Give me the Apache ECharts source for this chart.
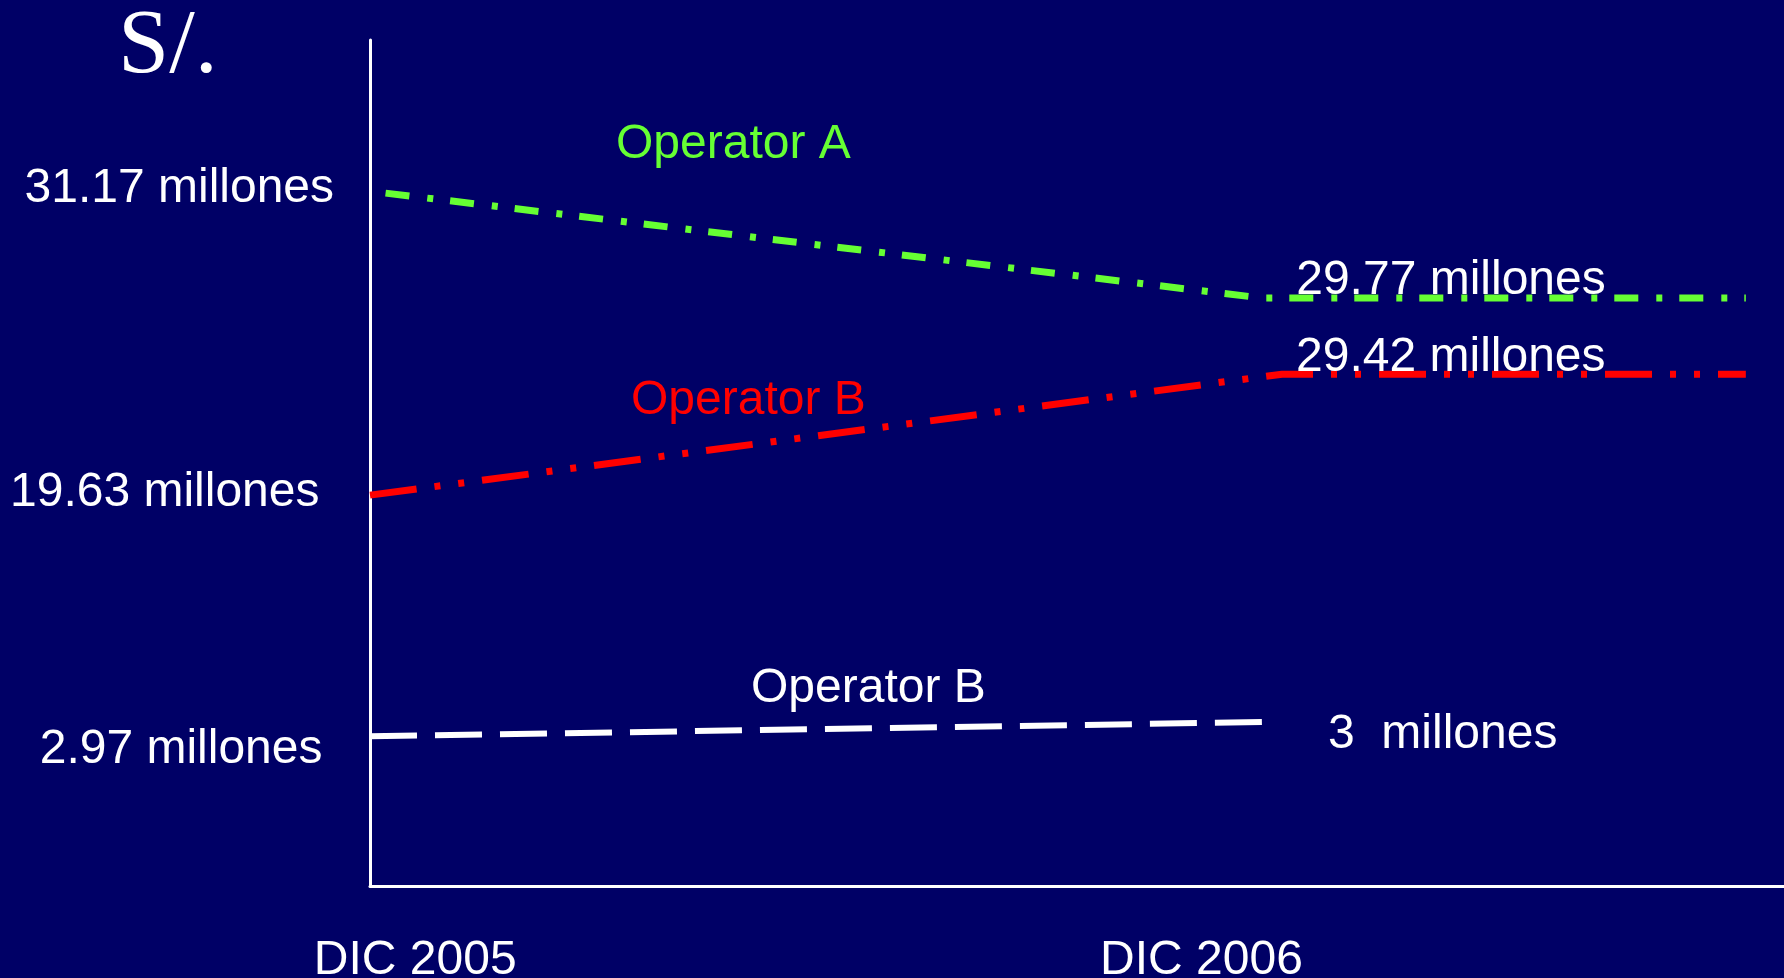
<!DOCTYPE html>
<html>
<head>
<meta charset="utf-8">
<script src="https://cdn.jsdelivr.net/npm/echarts@6/dist/echarts.min.js"></script>
<style>
  html, body { margin: 0; padding: 0; background: #000066; }
  #chart { width: 1784px; height: 978px; }
</style>
</head>
<body>
<div id="chart"></div>
<script>
// periodos del eje X y su ubicación en la escala horizontal (0-100)
const periodos = ['DIC 2005', 'DIC 2006'];
const posPeriodos = [3.2, 58.8];

// Operator A (verde)
const xOperadorA = [1.1, 63.1, 97.3];
const nivelOperadorA = [81.9, 69.5, 69.5];
const textosOperadorA = ['31.17 millones', '29.77 millones', ''];

// Operator B (rojo)
const xOperadorB = [0, 64.5, 97.3];
const nivelOperadorB = [46.2, 60.5, 60.5];
const textosOperadorB = ['19.63 millones', '29.42 millones', ''];

// Operator B (blanco)
const xOperadorB2 = [0, 64.0];
const nivelOperadorB2 = [17.7, 19.4];
const textosOperadorB2 = ['2.97 millones', '3  millones'];

const FONT = "'Liberation Sans', Arial, sans-serif";

const chart = echarts.init(document.getElementById('chart'));

function puntos(xs, ys, textos, estilos) {
  return xs.map((x, i) => ({
    value: [x, ys[i]],
    label: textos[i]
      ? Object.assign({ show: true, formatter: textos[i] }, estilos[i])
      : { show: false }
  }));
}

function serie(nombre, color, width, dash, data) {
  return {
    name: nombre,
    type: 'line',
    data: data,
    symbol: 'circle',
    symbolSize: 1,
    itemStyle: { color: 'rgba(0,0,0,0)' },
    lineStyle: { color: color, width: width, type: dash, cap: 'butt' },
    label: { color: '#ffffff', fontSize: 48, fontFamily: FONT },
    clip: false,
    silent: true,
    emphasis: { disabled: true }
  };
}

function texto(t, x, y, color) {
  return {
    type: 'text', x: x, y: y, silent: true,
    style: { text: t, fill: color, font: '48px ' + FONT, align: 'left', verticalAlign: 'middle' }
  };
}

const option = {
  backgroundColor: '#000066',
  animation: false,
  grid: { left: 370, right: 0, top: 40, bottom: 92, containLabel: false, outerBoundsMode: 'none' },
  xAxis: {
    type: 'value', min: 0, max: 100,
    axisLine: { show: true, lineStyle: { color: '#ffffff', width: 3 } },
    axisTick: { show: false },
    splitLine: { show: false },
    axisLabel: {
      customValues: posPeriodos,
      formatter: v => periodos[posPeriodos.indexOf(v)] || '',
      color: '#ffffff', fontSize: 48, fontFamily: FONT,
      margin: 51, verticalAlign: 'top'
    }
  },
  yAxis: {
    type: 'value', min: 0, max: 100,
    axisLine: { show: true, lineStyle: { color: '#ffffff', width: 3 } },
    axisTick: { show: false },
    splitLine: { show: false },
    axisLabel: { show: false }
  },
  series: [
    serie('Operator A', '#66FF33', 7, [24, 18, 6, 17],
      puntos(xOperadorA, nivelOperadorA, textosOperadorA, [
        { position: 'left', distance: 51, offset: [0, -4] },
        { position: 'right', distance: 33.5, offset: [0, -17] },
        {}
      ])),
    serie('Operator B', '#FF0000', 7, [47, 18, 6, 18, 6, 18],
      puntos(xOperadorB, nivelOperadorB, textosOperadorB, [
        { position: 'left', distance: 50, offset: [0, -2] },
        { position: 'right', distance: 13.5, offset: [0, -16.5] },
        {}
      ])),
    serie('Operator B ', '#FFFFFF', 6, [47, 18],
      puntos(xOperadorB2, nivelOperadorB2, textosOperadorB2, [
        { position: 'left', distance: 47, offset: [0, 14] },
        { position: 'right', distance: 52.5, offset: [0, 13] }
      ]))
  ],
  graphic: [
    {
      type: 'text', x: 118, y: 48, silent: true,
      style: { text: 'S/.', fill: '#ffffff', font: "92px 'Liberation Serif', 'Times New Roman', serif", align: 'left', verticalAlign: 'middle' }
    },
    texto('Operator A', 616, 145, '#66FF33'),
    texto('Operator B', 631, 401, '#FF0000'),
    texto('Operator B', 751, 689, '#FFFFFF')
  ]
};

chart.setOption(option);
</script>
</body>
</html>
